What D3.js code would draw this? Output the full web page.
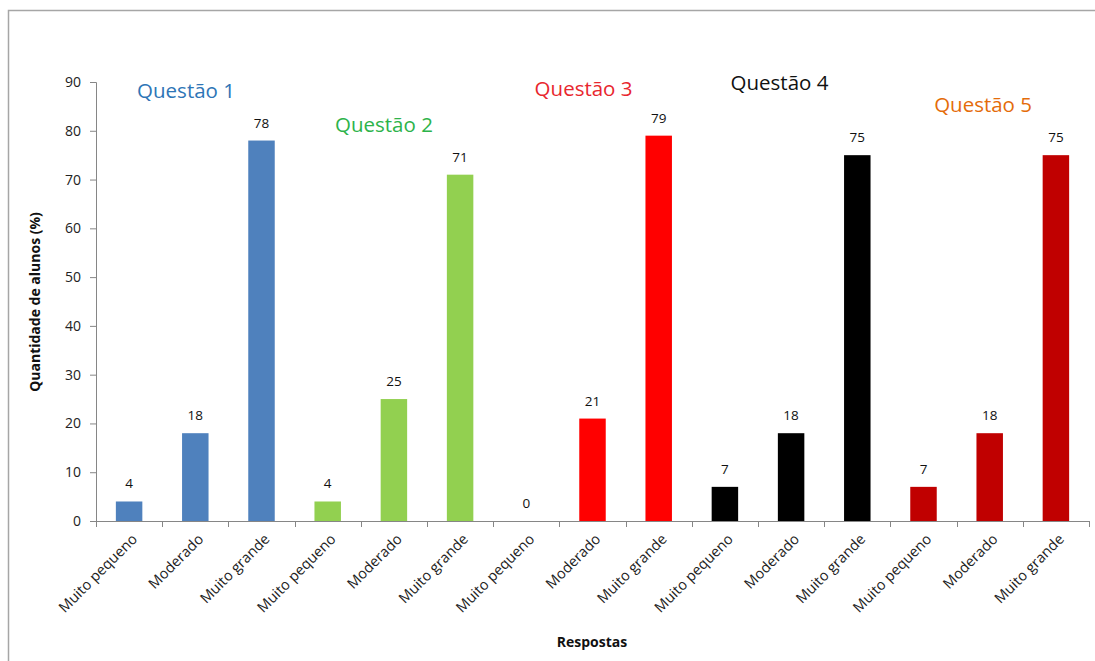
<!DOCTYPE html>
<html>
<head>
<meta charset="utf-8">
<script src="https://cdn.jsdelivr.net/npm/d3@7"></script>
<style>
  html, body { margin: 0; padding: 0; background: #fff; overflow: hidden; }
  svg { display: block; font-family: "Open Sans", "Noto Sans", sans-serif; }
</style>
</head>
<body>
<svg id="chart" width="1095" height="661"></svg>
<script>
// ---- data ----
const categories = ["Muito pequeno", "Moderado", "Muito grande"];
const questions = ["Questão 1", "Questão 2", "Questão 3", "Questão 4", "Questão 5"];
const q1Values = [4, 18, 78];
const q2Values = [4, 25, 71];
const q3Values = [0, 21, 79];
const q4Values = [7, 18, 75];
const q5Values = [7, 18, 75];
const yTicks = [0, 10, 20, 30, 40, 50, 60, 70, 80, 90];
const barColors = ["#4F81BD", "#92D050", "#FF0000", "#000000", "#C00000"];
const titleColors = ["#2E75B6", "#2DB34A", "#E8262E", "#111111", "#E46C0A"];
const yAxisTitle = "Quantidade de alunos  (%)";
const xAxisTitle = "Respostas";

// ---- build table ----
const seriesValues = [q1Values, q2Values, q3Values, q4Values, q5Values];
const rows = [];
seriesValues.forEach((vals, qi) => {
  vals.forEach((v, ci) => {
    rows.push({ id: qi + "-" + ci, q: qi, cat: categories[ci], value: v });
  });
});

// ---- layout ----
const svg = d3.select("#chart");
const margin = { left: 96, right: 1089, top: 82, bottom: 521 };

// outer frame
svg.append("rect")
  .attr("x", 8.5).attr("y", 10.5)
  .attr("width", 1200).attr("height", 800)
  .attr("fill", "none").attr("stroke", "#A6A6A6").attr("stroke-width", 1.5);

const x = d3.scaleBand()
  .domain(rows.map(d => d.id))
  .range([margin.left, margin.right])
  .paddingInner(0.6)
  .paddingOuter(0.3);

const step = x.step();

const y = d3.scaleLinear().domain([0, 90]).range([margin.bottom, margin.top]);

const axisColor = "#868686";

// y axis
const yAxis = svg.append("g")
  .attr("transform", `translate(${margin.left},0)`)
  .call(d3.axisLeft(y).tickValues(yTicks).tickSize(6).tickPadding(9));
yAxis.select(".domain").attr("stroke", axisColor);
yAxis.selectAll(".tick line").attr("stroke", axisColor);
yAxis.selectAll(".tick text")
  .attr("fill", "#222").style("font-size", "14px")
  .attr("font-family", "\"Open Sans\", sans-serif");

// x axis line + ticks at band boundaries
const xAxisG = svg.append("g");
xAxisG.append("line")
  .attr("x1", margin.left).attr("x2", margin.right)
  .attr("y1", y(0) + 0.5).attr("y2", y(0) + 0.5)
  .attr("stroke", axisColor);
const boundaries = rows.map(d => x(d.id) - x.bandwidth() * 0.75).concat([margin.right]);
xAxisG.selectAll("line.tk").data(boundaries).join("line")
  .attr("class", "tk")
  .attr("x1", d => Math.round(d) + 0.5).attr("x2", d => Math.round(d) + 0.5)
  .attr("y1", y(0)).attr("y2", y(0) + 6)
  .attr("stroke", axisColor);

// category labels
xAxisG.selectAll("text.cat").data(rows).join("text")
  .attr("class", "cat")
  .attr("transform", d => `translate(${x(d.id) + x.bandwidth() / 2 + 9},${y(0) + 19}) rotate(-45)`)
  .attr("text-anchor", "end")
  .attr("fill", "#222")
  .style("font-size", "14.5px")
  .text(d => d.cat);

// bars
svg.append("g").selectAll("rect").data(rows).join("rect")
  .attr("x", d => x(d.id))
  .attr("width", x.bandwidth())
  .attr("y", d => y(d.value))
  .attr("height", d => y(0) - y(d.value))
  .attr("fill", d => barColors[d.q]);

// value labels
svg.append("g").selectAll("text").data(rows).join("text")
  .attr("x", d => x(d.id) + x.bandwidth() / 2)
  .attr("y", d => y(d.value) - 13)
  .attr("text-anchor", "middle")
  .attr("fill", "#111")
  .style("font-size", "13.5px")
  .style("font-weight", "500")
  .text(d => d.value);

// question titles (placed relative to the group's bars)
const titleOffsets = [
  { dx: 0.86, v: 86.8 },
  { dx: 0.85, v: 79.7 },
  { dx: 0.865, v: 87.1 },
  { dx: 0.825, v: 88.4 },
  { dx: 0.9, v: 83.8 }
];
svg.append("g").selectAll("text").data(questions).join("text")
  .attr("x", (d, i) => x(i + "-0") + x.bandwidth() / 2 + titleOffsets[i].dx * step)
  .attr("y", (d, i) => y(titleOffsets[i].v))
  .attr("text-anchor", "middle")
  .attr("fill", (d, i) => titleColors[i])
  .style("font-size", "20.5px")
  .text(d => d);

// axis titles
svg.append("text")
  .attr("transform", `translate(40,302) rotate(-90)`)
  .attr("text-anchor", "middle")
  .attr("fill", "#111")
  .style("font-size", "14px")
  .style("font-weight", "700")
  .text(yAxisTitle);

svg.append("text")
  .attr("x", 592)
  .attr("y", 647)
  .attr("text-anchor", "middle")
  .attr("fill", "#111")
  .style("font-size", "14px")
  .style("font-weight", "700")
  .text(xAxisTitle);
</script>
</body>
</html>
